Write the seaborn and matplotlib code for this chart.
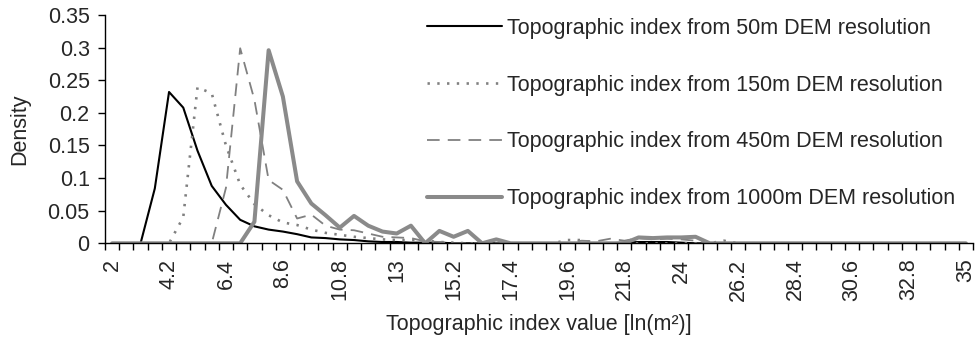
import matplotlib
matplotlib.use("Agg")
import matplotlib.pyplot as plt
import seaborn as sns
import pandas as pd
from matplotlib.ticker import FixedLocator

# Topographic index class centres [ln(m^2)]
ti_classes = [2, 2.55, 3.1, 3.65, 4.2, 4.75, 5.3, 5.85, 6.4, 6.95, 7.5, 8.05, 8.6,
              9.15, 9.7, 10.25, 10.8, 11.35, 11.9, 12.45, 13, 13.55, 14.1, 14.65,
              15.2, 15.75, 16.3, 16.85, 17.4, 17.95, 18.5, 19.05, 19.6, 20.15, 20.7,
              21.25, 21.8, 22.35, 22.9, 23.45, 24, 24.55, 25.1, 25.65, 26.2, 26.75,
              27.3, 27.85, 28.4, 28.95, 29.5, 30.05, 30.6, 31.15, 31.7, 32.25, 32.8,
              33.35, 33.9, 34.45, 35]

# Density of each class for the four DEM resolutions
dens_50m = [0, 0, 0, 0.084, 0.232, 0.208, 0.142, 0.088, 0.059, 0.036, 0.026, 0.021,
            0.018, 0.014, 0.009, 0.008, 0.006, 0.005, 0.003, 0.002, 0.002, 0.001,
            0.001, 0.001, 0, 0, 0, 0, 0, 0, 0, 0, 0, 0, 0, 0, 0.001, 0.002, 0.002,
            0.002, 0.001, 0, 0, 0, 0, 0, 0, 0, 0, 0, 0, 0, 0, 0, 0, 0, 0, 0, 0, 0, 0]
dens_150m = [0, 0, 0, 0, 0, 0.04, 0.239, 0.23, 0.15, 0.09, 0.06, 0.043, 0.032,
             0.028, 0.021, 0.016, 0.013, 0.01, 0.008, 0.006, 0.005, 0.005, 0.004,
             0.002, 0.001, 0, 0, 0, 0, 0, 0, 0, 0.005, 0.005, 0, 0, 0, 0, 0, 0, 0,
             0, 0, 0.004, 0, 0, 0, 0, 0, 0, 0, 0, 0, 0, 0, 0, 0, 0, 0, 0, 0]
dens_450m = [0, 0, 0, 0, 0, 0, 0, 0, 0.085, 0.299, 0.22, 0.097, 0.082, 0.038,
             0.044, 0.027, 0.021, 0.02, 0.015, 0.01, 0.009, 0.008, 0.003, 0.002,
             0, 0, 0, 0, 0, 0, 0, 0, 0, 0.004, 0.003, 0.007, 0.004, 0.008, 0.006,
             0.007, 0.006, 0.004, 0, 0, 0, 0, 0, 0, 0, 0, 0, 0, 0, 0, 0, 0, 0, 0,
             0, 0, 0]
dens_1000m = [0, 0, 0, 0, 0, 0, 0, 0, 0, 0, 0.033, 0.296, 0.225, 0.095, 0.061,
              0.043, 0.024, 0.042, 0.027, 0.018, 0.015, 0.027, 0, 0.019, 0.01,
              0.019, 0, 0.006, 0, 0, 0, 0, 0, 0, 0, 0, 0, 0.009, 0.008, 0.009,
              0.009, 0.01, 0, 0, 0, 0, 0, 0, 0, 0, 0, 0, 0, 0, 0, 0, 0, 0, 0, 0, 0]

labels = ["Topographic index from 50m DEM resolution",
          "Topographic index from 150m DEM resolution",
          "Topographic index from 450m DEM resolution",
          "Topographic index from 1000m DEM resolution"]

x_ticklabels = ["2", "4.2", "6.4", "8.6", "10.8", "13", "15.2", "17.4", "19.6",
                "21.8", "24", "26.2", "28.4", "30.6", "32.8", "35"]
y_ticks = [0, 0.05, 0.1, 0.15, 0.2, 0.25, 0.3, 0.35]
y_ticklabels = ["0", "0.05", "0.1", "0.15", "0.2", "0.25", "0.3", "0.35"]

sns.set_theme(style="white")
plt.rcParams["font.family"] = ["Liberation Sans", "DejaVu Sans"]
FS = 15.5

fig = plt.figure(figsize=(9.76, 3.40), dpi=100)
ax = fig.add_axes([105 / 976, 1 - 243.3 / 340, 868 / 976, (243.3 - 15) / 340])

styles = [
    dict(color="black", linewidth=1.5, linestyle="-"),
    dict(color="#808080", linewidth=1.9, linestyle=(0, (0.9, 2.8))),
    dict(color="#808080", linewidth=1.3, linestyle=(0, (7.0, 4.5))),
    dict(color="#8a8a8a", linewidth=2.9, linestyle="-"),
]
series = [dens_50m, dens_150m, dens_450m, dens_1000m]
for vals, lab, st in zip(series, labels, styles):
    df = pd.DataFrame({"ti": ti_classes, "density": vals})
    sns.lineplot(data=df, x="ti", y="density", ax=ax, label=lab,
                 color=st["color"], linewidth=st["linewidth"],
                 linestyle=st["linestyle"])

half = (ti_classes[1] - ti_classes[0]) / 2
ax.set_xlim(ti_classes[0] - half, ti_classes[-1] + half)
ax.set_ylim(0, 0.35)

# class boundaries carry the tick marks; every fourth centre is labelled
ax.set_xticks([float(v) for v in x_ticklabels])
ax.set_xticklabels(x_ticklabels, rotation=90, fontsize=FS, va="top")
bounds = [c - half for c in ti_classes] + [ti_classes[-1] + half]
ax.xaxis.set_minor_locator(FixedLocator(bounds))
ax.tick_params(axis="x", which="major", length=0, pad=11)
ax.tick_params(axis="x", which="minor", length=5, width=1, color="black",
               direction="out", bottom=True)

ax.set_yticks(y_ticks)
ax.set_yticklabels(y_ticklabels, fontsize=FS)
ax.tick_params(axis="y", length=5, width=1, color="black", direction="out",
               left=True, pad=6)

for side in ["top", "right"]:
    ax.spines[side].set_visible(False)
for side in ["left", "bottom"]:
    ax.spines[side].set_color("black")
    ax.spines[side].set_linewidth(1.0)
ax.grid(False)

ax.set_xlabel("Topographic index value [ln(m²)]", fontsize=FS)
ax.xaxis.set_label_coords(0.5, -0.31)
ax.set_ylabel("Density", fontsize=FS)
ax.yaxis.set_label_coords(-0.086, 0.5)

leg = ax.legend(loc="upper left", bbox_to_anchor=(427 / 976, 1 - 18 / 340),
                bbox_transform=fig.transFigure, frameon=False, fontsize=FS,
                handlelength=3.5, handletextpad=0.22, labelspacing=1.66,
                borderpad=0, borderaxespad=0)

fig.savefig("out.png", dpi=100)
